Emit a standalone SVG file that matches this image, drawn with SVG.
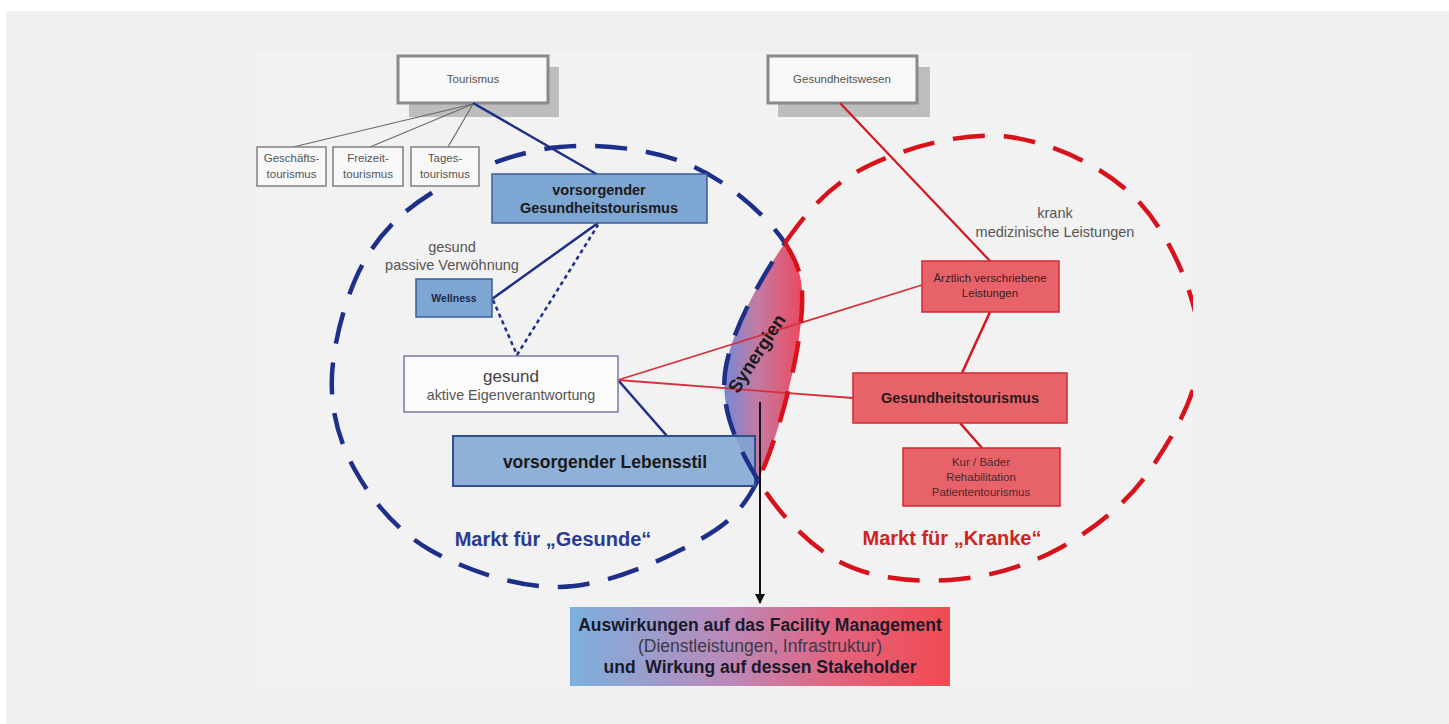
<svg xmlns="http://www.w3.org/2000/svg" width="1449" height="724" viewBox="0 0 1449 724">
<style>
text{font-family:"Liberation Sans",Arial,sans-serif;}
.small{font-size:11.5px;fill:#555;text-anchor:middle;}
.lbl{font-size:14.5px;fill:#555;text-anchor:middle;}
.b{font-weight:bold;}
.gbox{fill:#f8f8f8;stroke:#8a8a8a;stroke-width:3;}
.shadow{fill:#bdbdbd;}
.sub{fill:#f8f8f8;stroke:#808080;stroke-width:1.5;}
.bbox{fill:#7ea6d2;stroke:#3d5c99;stroke-width:1.5;}
.rbox{fill:#e8626a;stroke:#cf2a30;stroke-width:1.5;}
.dashB{fill:none;stroke:#1e2f8a;stroke-width:4.5;stroke-dasharray:32 19;}
.dashR{fill:none;stroke:#d8121c;stroke-width:4.5;stroke-dasharray:32 19;}
.gray{stroke:#6a6a6a;stroke-width:1.2;fill:none;}
.navy{stroke:#1f2f85;stroke-width:2.5;fill:none;}
.red{stroke:#d8303a;stroke-width:1.8;fill:none;}
</style>
<defs>
<clipPath id="pic"><rect x="0" y="0" width="1193" height="724"/></clipPath>
<linearGradient id="lensG" gradientUnits="userSpaceOnUse" x1="722" y1="0" x2="802" y2="0">
<stop offset="0" stop-color="#6f8ad8"/>
<stop offset="0.45" stop-color="#c57aa2"/>
<stop offset="1" stop-color="#ea4a5e"/>
</linearGradient>
<linearGradient id="botG" gradientUnits="userSpaceOnUse" x1="570" y1="0" x2="950" y2="0">
<stop offset="0" stop-color="#7bb0de"/>
<stop offset="0.4" stop-color="#b98bbb"/>
<stop offset="0.7" stop-color="#e2647e"/>
<stop offset="1" stop-color="#f24a50"/>
</linearGradient>
<marker id="arr" viewBox="0 0 10 10" refX="9" refY="5" markerWidth="5" markerHeight="5" orient="auto" markerUnits="strokeWidth">
<path d="M0,0 L10,5 L0,10 Z" fill="#111"/>
</marker>
</defs>

<rect x="0" y="0" width="1449" height="724" fill="#ffffff"/>
<rect x="6" y="11" width="1443" height="713" fill="#f0f0f0"/>
<rect x="255" y="52" width="938" height="634" fill="#f2f2f2"/>

<!-- market ellipses -->
<g id="markets">
<path class="dashB" d="M758,480 C739.7,515.8 723,527.2 690,545 C657,562.8 603.3,586.2 560,587 C516.7,587.8 464.2,569.5 430,550 C395.8,530.5 371.3,499.2 355,470 C338.7,440.8 330.3,410 332,375 C333.7,340 347,291.2 365,260 C383,228.8 407.5,206.8 440,188 C472.5,169.2 518.3,150.8 560,147 C601.7,143.2 652.5,149 690,165 C727.5,181 766.7,215.5 785,243"/>
<path class="dashR" clip-path="url(#pic)" d="M785,243 C809.2,208.3 832.5,182.7 870,165 C907.5,147.3 965,130.7 1010,137 C1055,143.3 1108.3,168.3 1140,203 C1171.7,237.7 1198.3,300.5 1200,345 C1201.7,389.5 1173.3,436.2 1150,470 C1126.7,503.8 1093.3,529.7 1060,548 C1026.7,566.3 986.7,577.7 950,580 C913.3,582.3 872,578.7 840,562 C808,545.3 777.2,511.5 758,480"/>
</g>

<g id="lens-fill">
<path d="M785,243 C803.3,270.5 804.5,290.5 800,330 C795.5,369.5 776.3,444.2 758,480 C738.8,448.5 720.5,412.5 725,373 C729.5,333.5 760.8,277.7 785,243 Z" fill="url(#lensG)"/>
</g>

<g id="node-tourismus">
<rect class="shadow" x="409" y="67" width="150" height="50"/>
<rect class="gbox" x="398" y="56" width="150" height="47"/>
<text class="small" x="473" y="83" font-size="11">Tourismus</text>
</g>
<g id="node-gesundheitswesen">
<rect class="shadow" x="778" y="67" width="152" height="50"/>
<rect class="gbox" x="768" y="56" width="149" height="47"/>
<text class="small" x="842" y="83">Gesundheitswesen</text>
</g>

<!-- connectors -->
<g id="connectors">
<line class="gray" x1="473" y1="104" x2="293" y2="147"/>
<line class="gray" x1="473" y1="104" x2="370" y2="147"/>
<line class="gray" x1="473" y1="104" x2="448" y2="147"/>
<line class="navy" x1="473" y1="103" x2="598" y2="175"/>
<line class="navy" x1="598" y1="223" x2="492" y2="299"/>
<polyline class="navy" stroke-width="3" stroke-dasharray="4 3.5" points="493,300 517,355 598,225"/>
<line class="navy" x1="618" y1="380" x2="667" y2="436"/>
<line class="red" x1="618" y1="380" x2="922" y2="285"/>
<line class="red" x1="618" y1="380" x2="853" y2="398"/>
<line stroke="#d4161e" stroke-width="2.2" x1="840" y1="103" x2="990" y2="261"/>
<line stroke="#d4161e" stroke-width="2.5" x1="990" y1="312" x2="962" y2="373"/>
<line stroke="#d4161e" stroke-width="2.5" x1="960" y1="423" x2="982" y2="448"/>
</g>

<g id="node-geschaeft">
<rect class="sub" x="257" y="147" width="69" height="39"/>
<text class="small" font-size="11"><tspan x="291.5" y="162">Geschäfts-</tspan><tspan x="291.5" y="178">tourismus</tspan></text>
</g>
<g id="node-freizeit">
<rect class="sub" x="333" y="147" width="70" height="39"/>
<text class="small" font-size="11"><tspan x="368" y="162">Freizeit-</tspan><tspan x="368" y="178">tourismus</tspan></text>
</g>
<g id="node-tages">
<rect class="sub" x="411" y="147" width="68" height="39"/>
<text class="small" font-size="11"><tspan x="445" y="162">Tages-</tspan><tspan x="445" y="178">tourismus</tspan></text>
</g>

<g id="node-vorsorg-gt">
<rect class="bbox" x="492" y="174" width="215" height="49"/>
<text class="b" font-size="14.5" fill="#1a1a1a" text-anchor="middle"><tspan x="599" y="195">vorsorgender</tspan><tspan x="599" y="213">Gesundheitstourismus</tspan></text>
</g>

<g id="label-passiv">
<text class="lbl"><tspan x="452" y="252">gesund</tspan><tspan x="452" y="270">passive Verwöhnung</tspan></text>
</g>

<g id="node-wellness">
<rect class="bbox" x="416" y="279" width="76" height="38"/>
<text class="b" x="454" y="302" font-size="10.5" fill="#1a2a4a" text-anchor="middle">Wellness</text>
</g>

<g id="node-aktiv">
<rect x="404" y="356" width="214" height="56" fill="#fbfbfb" stroke="#7a7aa8" stroke-width="1.5"/>
<text x="511" y="382" font-size="17" fill="#444" text-anchor="middle">gesund</text>
<text x="511" y="400" font-size="14.3" fill="#555" text-anchor="middle">aktive Eigenverantwortung</text>
</g>

<g id="node-lebensstil">
<rect x="453" y="436" width="302" height="50" fill="#7ea6d2" fill-opacity="0.85" stroke="#2f4f8f" stroke-width="2"/>
<text class="b" x="605" y="468" font-size="17.5" fill="#1a1a1a" text-anchor="middle">vorsorgender Lebensstil</text>
</g>

<g id="label-gesunde">
<text class="b" x="553" y="546" font-size="20" fill="#2a3a92" text-anchor="middle">Markt für „Gesunde“</text>
</g>
<g id="label-kranke">
<text class="b" x="952" y="545" font-size="20" fill="#d42222" text-anchor="middle">Markt für „Kranke“</text>
</g>

<g id="label-krank">
<text class="lbl"><tspan x="1055" y="218">krank</tspan><tspan x="1055" y="237">medizinische Leistungen</tspan></text>
</g>

<g id="node-aerztlich">
<rect class="rbox" x="922" y="261" width="137" height="51"/>
<text font-size="11.5" fill="#3a2020" text-anchor="middle"><tspan x="990" y="282">Ärztlich verschriebene</tspan><tspan x="990" y="297">Leistungen</tspan></text>
</g>

<g id="node-gt-rot">
<rect class="rbox" x="853" y="373" width="214" height="50"/>
<text class="b" x="960" y="403" font-size="14.5" fill="#2a1a1a" text-anchor="middle">Gesundheitstourismus</text>
</g>

<g id="node-kur">
<rect class="rbox" x="903" y="448" width="157" height="58"/>
<text font-size="11.5" fill="#4a2a2a" text-anchor="middle"><tspan x="981" y="466">Kur / Bäder</tspan><tspan x="981" y="481">Rehabilitation</tspan><tspan x="981" y="496">Patiententourismus</tspan></text>
</g>

<g id="lens-edges">
<path class="dashB" stroke-dasharray="26 10" d="M758,480 C738.8,448.5 720.5,412.5 725,373 C729.5,333.5 760.8,277.7 785,243"/>
<path class="dashR" stroke-dasharray="26 10" d="M785,243 C803.3,270.5 804.5,290.5 800,330 C795.5,369.5 776.3,444.2 758,480"/>
</g>

<g id="label-synergien">
<text class="b" x="0" y="0" font-size="18.5" fill="#1a1a1a" text-anchor="middle" transform="translate(762,357) rotate(-57)">Synergien</text>
</g>

<g id="arrow">
<line x1="760" y1="402" x2="760" y2="603" stroke="#111" stroke-width="2" marker-end="url(#arr)"/>
</g>

<g id="node-fm">
<rect x="570" y="607" width="380" height="79" fill="url(#botG)"/>
<text class="b" x="760" y="631" font-size="17.5" fill="#1a1a2a" text-anchor="middle">Auswirkungen auf das Facility Management</text>
<text x="760" y="652" font-size="17.5" fill="#3a3a4a" text-anchor="middle">(Dienstleistungen, Infrastruktur)</text>
<text class="b" x="760" y="673" font-size="17.5" fill="#1a1a2a" text-anchor="middle" xml:space="preserve">und  Wirkung auf dessen Stakeholder</text>
</g>
</svg>
